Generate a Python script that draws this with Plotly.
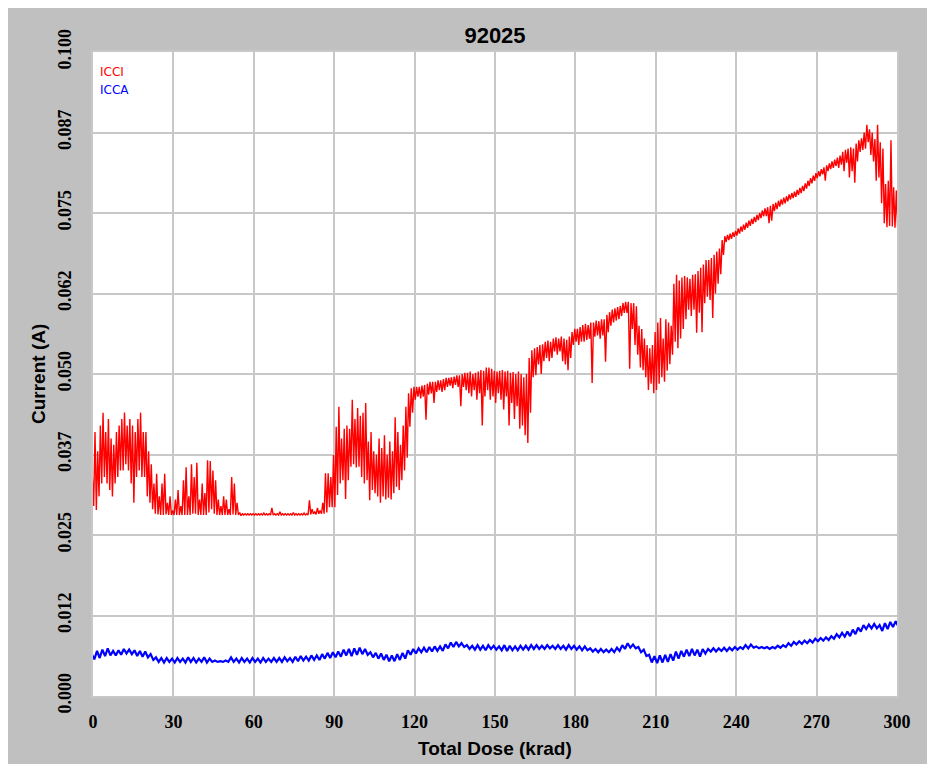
import plotly.graph_objects as go

# ---------------------------------------------------------------------------
# Data (currents in mA, dose in krad)
# ---------------------------------------------------------------------------

# ICCI: upper / lower envelope of the noisy trace, one pair per krad (0..300)
ICCI_DOSE = list(range(0, 301))
ICCI_HI_MA = [
    34.0, 41.0, 38.0, 42.0, 44.0, 41.0, 43.0, 40.0, 39.0, 41.0,
    42.0, 43.0, 44.0, 42.0, 43.0, 42.0, 41.0, 43.0, 44.0, 41.0,
    41.0, 38.0, 36.0, 33.0, 34.5, 31.0, 33.0, 34.5, 30.0, 31.0,
    28.8, 30.5, 32.0, 29.5, 33.5, 35.5, 31.0, 36.0, 34.0, 36.2,
    30.5, 33.0, 31.5, 36.6, 36.5, 35.0, 33.5, 30.5, 29.5, 31.0,
    30.5, 29.0, 34.0, 33.0, 30.0, 28.5, 28.3, 28.3, 28.3, 28.3,
    28.3, 28.3, 28.3, 28.3, 28.4, 28.3, 28.3, 29.2, 28.3, 28.3,
    28.6, 28.3, 28.3, 28.3, 28.3, 28.5, 28.3, 28.3, 28.3, 28.4,
    28.3, 30.4, 29.0, 28.6, 29.2, 28.8, 30.0, 34.6, 34.6, 34.0,
    37.4, 41.8, 44.9, 40.0, 41.5, 42.0, 41.5, 46.0, 43.0, 44.7,
    43.5, 44.0, 45.5, 39.5, 41.0, 38.0, 37.5, 40.0, 38.5, 40.5,
    37.5, 39.5, 38.0, 43.3, 41.0, 39.0, 42.0, 44.9, 47.0, 47.8,
    48.0, 48.0, 48.0, 48.2, 48.3, 48.5, 48.8, 48.8, 48.8, 49.0,
    49.0, 49.2, 49.4, 49.4, 49.5, 49.6, 49.8, 49.8, 50.0, 50.2,
    50.2, 50.4, 50.0, 50.2, 50.4, 50.6, 50.5, 51.0, 51.0, 50.8,
    50.5, 50.4, 50.5, 50.6, 50.4, 50.5, 50.2, 50.3, 50.0, 50.4,
    50.0, 49.5, 50.0, 52.5, 53.7, 54.0, 54.2, 54.5, 54.6, 55.0,
    55.2, 55.0, 55.5, 55.7, 55.5, 55.8, 55.5, 55.3, 55.8, 56.5,
    57.0, 57.0, 57.3, 57.6, 57.8, 57.6, 58.0, 58.0, 58.3, 58.2,
    58.5, 58.5, 59.2, 59.6, 60.0, 60.2, 60.4, 60.6, 61.0, 61.2,
    61.2, 61.0, 61.0, 60.5, 57.5, 57.0, 55.5, 54.5, 54.0, 54.5,
    56.5, 58.0, 58.7, 55.5, 58.5, 58.0, 57.5, 64.0, 65.4, 64.5,
    65.0, 65.2, 65.0, 64.8, 65.4, 65.5, 66.0, 66.5, 67.0, 67.7,
    67.7, 68.0, 68.5, 69.0, 69.5, 70.8, 71.4, 71.6, 71.8, 72.0,
    72.2, 72.6, 72.9, 73.2, 73.5, 73.8, 74.1, 74.4, 74.7, 75.0,
    75.4, 75.7, 75.9, 76.1, 76.4, 76.6, 76.9, 77.1, 77.4, 77.6,
    77.9, 78.1, 78.3, 78.6, 78.9, 79.2, 79.6, 80.0, 80.4, 80.8,
    81.2, 81.5, 81.8, 82.1, 82.4, 82.7, 83.0, 83.3, 83.6, 83.9,
    84.5, 84.8, 85.0, 85.2, 85.0, 85.8, 86.3, 86.6, 87.5, 88.7,
    88.0, 87.5, 86.5, 88.7, 86.0, 85.0, 79.5, 80.0, 86.3, 79.0,
    78.5,
]
ICCI_LO_MA = [
    29.5, 28.9, 31.0, 33.0, 34.0, 33.0, 32.0, 31.0, 33.0, 34.0,
    35.0, 35.0, 36.0, 35.0, 33.0, 30.0, 34.0, 35.0, 34.0, 34.0,
    31.0, 30.0, 29.0, 28.3, 28.2, 28.1, 28.1, 28.2, 28.1, 28.1,
    28.1, 28.1, 28.1, 28.1, 28.1, 28.1, 28.1, 28.3, 28.3, 28.1,
    28.1, 28.1, 28.1, 28.5, 29.0, 28.3, 28.1, 28.1, 28.1, 28.1,
    28.1, 28.1, 28.2, 28.1, 28.1, 28.0, 28.1, 28.1, 28.1, 28.1,
    28.1, 28.1, 28.1, 28.1, 28.1, 28.1, 28.1, 28.1, 28.1, 28.1,
    28.1, 28.1, 28.1, 28.1, 28.1, 28.1, 28.1, 28.1, 28.1, 28.1,
    28.1, 28.2, 28.3, 28.2, 28.3, 28.3, 28.3, 28.5, 29.3, 29.3,
    29.3, 31.2, 33.0, 33.5, 30.6, 33.5, 35.6, 36.0, 35.5, 35.6,
    34.0, 33.0, 33.5, 30.4, 32.0, 31.5, 31.0, 30.0, 31.0, 30.5,
    30.8, 30.5, 31.5, 32.5, 32.0, 33.5, 35.0, 37.0, 41.8, 44.0,
    46.0, 46.5, 46.2, 46.5, 42.9, 46.8, 47.0, 45.5, 47.2, 47.5,
    47.2, 47.5, 48.0, 48.2, 47.8, 48.3, 48.0, 45.0, 48.0, 47.5,
    47.0, 46.5, 47.5, 46.0, 47.0, 42.0, 46.5, 47.5, 46.0, 46.5,
    45.5, 47.0, 46.0, 44.5, 46.5, 42.0, 45.5, 43.0, 45.0, 41.5,
    42.0, 40.5, 39.3, 44.0, 49.5, 49.8, 51.5, 50.0, 52.0, 52.5,
    52.0, 52.5, 53.5, 53.0, 53.5, 52.0, 51.5, 50.6, 52.5, 54.5,
    55.0, 54.5, 55.0, 55.0, 55.3, 55.5, 48.6, 55.8, 56.0, 55.5,
    56.0, 51.9, 56.5, 57.5, 58.0, 58.3, 58.5, 59.0, 59.5, 59.5,
    50.8, 57.0, 54.5, 53.0, 51.0, 50.6, 49.5, 47.5, 48.5, 47.0,
    47.5, 48.5, 49.5, 48.8, 50.5, 51.5, 53.0, 55.0, 54.0, 55.5,
    57.0, 58.5, 60.0, 59.0, 60.0, 56.4, 59.5, 56.5, 61.0, 62.0,
    61.5, 58.7, 62.5, 64.0, 65.5, 68.5, 70.5, 70.8, 71.0, 71.3,
    71.5, 71.8, 72.1, 72.4, 72.7, 73.0, 73.3, 73.6, 73.9, 74.2,
    74.5, 74.5, 73.4, 73.8, 75.3, 75.6, 76.0, 76.3, 76.5, 76.8,
    77.1, 77.3, 77.5, 77.8, 78.1, 78.4, 78.8, 79.2, 79.6, 80.0,
    80.4, 80.7, 81.0, 80.0, 81.5, 81.8, 82.0, 82.3, 82.0, 82.5,
    81.5, 82.8, 80.5, 81.5, 79.7, 83.0, 84.5, 84.8, 85.0, 86.0,
    84.0, 83.0, 80.0, 80.5, 76.5, 73.4, 72.8, 73.0, 72.9, 72.7,
    72.7,
]

# ICCA: upper / lower envelope, one pair every 2 krad (0..300)
ICCA_DOSE = list(range(0, 301, 2))
ICCA_HI_MA = [
    6.5, 7.0, 7.2, 7.4, 7.0, 7.1, 7.3, 7.2, 7.1, 7.0,
    6.9, 6.5, 6.0, 5.9, 5.9, 5.8, 5.9, 5.8, 6.0, 5.9,
    5.8, 6.0, 5.8, 5.5, 5.4, 5.5, 6.0, 5.8, 5.9, 5.8,
    5.9, 5.8, 5.9, 5.8, 5.9, 5.9, 6.0, 5.9, 6.1, 6.2,
    6.1, 6.3, 6.3, 6.5, 6.7, 6.8, 6.9, 7.2, 7.3, 7.4,
    7.5, 7.3, 6.8, 6.7, 6.6, 6.4, 6.3, 6.5, 6.7, 7.1,
    7.3, 7.4, 7.5, 7.6, 7.7, 7.7, 8.0, 8.3, 8.4, 8.2,
    7.9, 7.8, 7.9, 7.8, 7.9, 7.8, 7.7, 7.9, 7.8, 7.7,
    7.8, 7.8, 7.9, 7.9, 7.8, 7.9, 7.8, 7.9, 7.8, 7.9,
    7.8, 7.7, 7.7, 7.4, 7.3, 7.3, 7.2, 7.3, 7.5, 7.9,
    8.2, 8.0, 7.6, 7.2, 6.4, 6.2, 6.3, 6.4, 6.5, 6.9,
    7.0, 7.2, 7.3, 7.2, 7.3, 7.3, 7.4, 7.4, 7.5, 7.5,
    7.6, 7.6, 7.9, 8.0, 7.7, 7.6, 7.6, 7.6, 7.8, 7.9,
    8.2, 8.4, 8.5, 8.6, 8.7, 8.9, 9.0, 9.1, 9.3, 9.6,
    9.8, 10.0, 10.3, 10.6, 11.0, 11.1, 11.2, 11.0, 11.3, 11.5,
    11.6,
]
ICCA_LO_MA = [
    5.7, 5.9, 6.2, 6.3, 6.3, 6.4, 6.6, 6.5, 6.2, 6.1,
    6.0, 5.6, 5.3, 5.2, 5.3, 5.2, 5.3, 5.2, 5.3, 5.2,
    5.3, 5.2, 5.3, 5.3, 5.3, 5.3, 5.3, 5.2, 5.3, 5.2,
    5.3, 5.2, 5.3, 5.3, 5.3, 5.3, 5.4, 5.3, 5.4, 5.5,
    5.5, 5.6, 5.6, 5.8, 5.9, 6.0, 6.1, 6.3, 6.2, 6.4,
    6.5, 6.4, 6.0, 5.8, 5.6, 5.4, 5.4, 5.6, 5.8, 6.4,
    6.6, 6.8, 6.8, 6.9, 7.0, 7.0, 7.4, 7.6, 7.7, 7.6,
    7.3, 7.2, 7.2, 7.1, 7.3, 7.2, 7.1, 7.0, 7.1, 7.1,
    7.2, 7.2, 7.3, 7.3, 7.3, 7.4, 7.3, 7.3, 7.2, 7.3,
    7.2, 7.1, 7.1, 6.9, 6.8, 6.8, 6.8, 6.8, 7.0, 7.3,
    7.5, 7.4, 6.8, 6.2, 5.2, 5.1, 5.2, 5.3, 5.5, 5.8,
    6.1, 6.2, 6.3, 6.1, 6.6, 6.9, 6.9, 7.0, 7.0, 7.1,
    7.2, 7.3, 7.4, 7.5, 7.4, 7.4, 7.3, 7.4, 7.5, 7.6,
    7.8, 8.0, 8.1, 8.2, 8.3, 8.5, 8.6, 8.7, 8.9, 9.1,
    9.2, 9.3, 9.6, 10.0, 10.4, 10.5, 10.5, 10.1, 10.4, 10.7,
    10.8,
]

Y_TICKS = [0.0, 0.0125, 0.025, 0.0375, 0.05, 0.0625, 0.075, 0.0875, 0.1]
Y_TICK_TEXT = ["0.000", "0.012", "0.025", "0.037", "0.050", "0.062", "0.075", "0.087", "0.100"]
X_TICKS = list(range(0, 301, 30))

# ---------------------------------------------------------------------------
# Style / geometry (the page body adds an 8 px margin; the figure is kept
# small enough that the page never scrolls)
# ---------------------------------------------------------------------------

BG_GRAY = "#C0C0C0"
GRID = "#C8C8C8"
TICK_FONT = dict(family="Liberation Serif", size=18, color="#000000")
LABEL_FONT = dict(family="Liberation Sans", size=19, color="#000000")

OFF = 8
W, H = 935 - 2 * OFF, 772 - 2 * OFF
M_L, M_T = 93 - OFF, 52 - OFF
PW, PH = 804, 644
M_R, M_B = W - M_L - PW, H - M_T - PH
PLOT_BOTTOM = 696  # screen px


def _zigzag(dose, hi, lo, half):
    """Alternate upper/lower envelope so the trace reads as a noisy band."""
    xs, ys = [], []
    for d, h, l in zip(dose, hi, lo):
        xs += [d - half, d + half]
        ys += [h / 1000.0, l / 1000.0]
    return xs, ys


icci_x, icci_y = _zigzag(ICCI_DOSE, ICCI_HI_MA, ICCI_LO_MA, 0.25)
icca_x, icca_y = _zigzag(ICCA_DOSE, ICCA_HI_MA, ICCA_LO_MA, 0.5)

fig = go.Figure()
fig.add_trace(go.Scatter(
    x=icca_x, y=icca_y, mode="lines", name="ICCA",
    line=dict(color="#0000FF", width=2.2), showlegend=False,
))
fig.add_trace(go.Scatter(
    x=icci_x, y=icci_y, mode="lines", name="ICCI",
    line=dict(color="#FF0000", width=1.4), showlegend=False,
))

axis_common = dict(
    showgrid=True, gridcolor=GRID, gridwidth=1.5,
    showline=True, linecolor=GRID, linewidth=1.5, mirror=True,
    zeroline=False, ticks="outside", tickcolor="rgba(0,0,0,0)",
    tickfont=TICK_FONT,
)

fig.update_layout(
    width=W, height=H,
    margin=dict(l=M_L, r=M_R, t=M_T, b=M_B),
    paper_bgcolor=BG_GRAY,
    plot_bgcolor="#FFFFFF",
    title=dict(
        text="<b>92025</b>", x=(M_L + PW / 2) / W, xanchor="center",
        y=1 - (35 - OFF) / H, yanchor="middle",
        font=dict(family="Liberation Sans", size=22, color="#000000"),
    ),
    xaxis=dict(
        range=[0, 300], tickvals=X_TICKS,
        ticktext=[f"<b>{v}</b>" for v in X_TICKS], ticklen=9,
        **axis_common,
    ),
    yaxis=dict(
        range=[0, 0.1], tickvals=Y_TICKS,
        ticktext=[f"<b>{t}</b>" for t in Y_TICK_TEXT], tickangle=-90,
        ticklen=13, **axis_common,
    ),
    showlegend=False,
)

# Axis titles and in-plot legend text
fig.add_annotation(
    text="<b>Total Dose (krad)</b>", xref="paper", yref="paper",
    x=0.5, y=-(748 - PLOT_BOTTOM) / PH, xanchor="center", yanchor="middle",
    showarrow=False, font=LABEL_FONT,
)
fig.add_annotation(
    text="<b>Current (A)</b>", xref="paper", yref="paper",
    x=(38 - 93) / PW, y=0.5, xanchor="center", yanchor="middle",
    textangle=-90, showarrow=False, font=LABEL_FONT,
)
for label, color, py in [("ICCI", "#FF0000", 72), ("ICCA", "#0000FF", 90)]:
    fig.add_annotation(
        text=label, xref="paper", yref="paper",
        x=5 / PW, y=1 - (py - 52) / PH, xanchor="left", yanchor="middle",
        showarrow=False, font=dict(family="DejaVu Sans", size=12, color=color),
    )

fig.write_html("out.html")
